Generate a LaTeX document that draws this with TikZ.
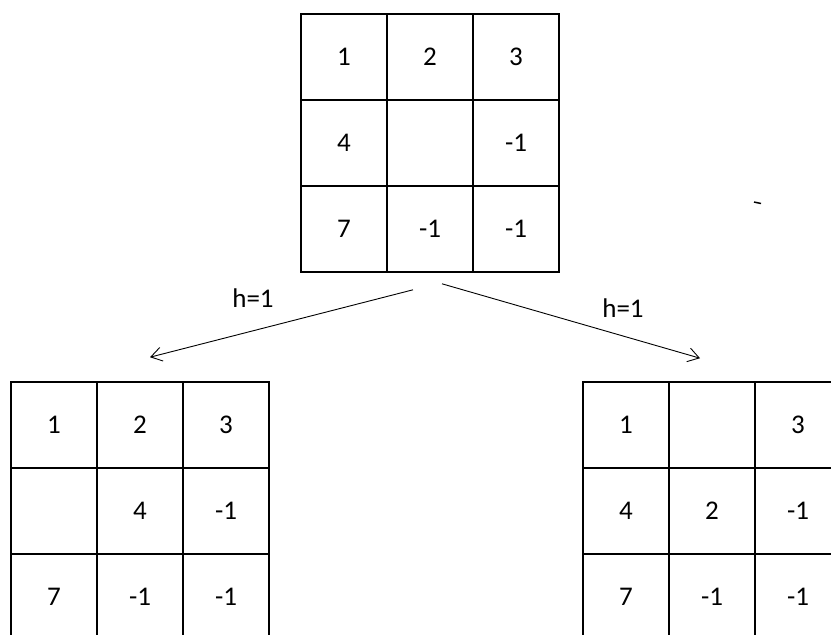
\documentclass[tikz,border=0pt]{standalone}
\usepackage{fontspec}
\setmainfont{Carlito}
\usetikzlibrary{arrows.meta}

\tikzset{
  cell/.style={draw, line width=1.6pt, minimum width=86pt, minimum height=86pt,
    inner sep=0pt, font=\fontsize{27}{32}\selectfont},
  move/.style={line width=0.9pt, -{Straight Barb[length=11pt,width=14pt]}},
  cost/.style={font=\fontsize{27}{32}\selectfont}
}

\begin{document}
\begin{tikzpicture}[x=1pt, y=-1pt]
\useasboundingbox (0,0) rectangle (831,635);
\clip (0,0) rectangle (831,635);

% Start state
\foreach \a/\b/\c [count=\r] in {1/2/3, 4//-1, 7/-1/-1} {
  \node[cell] (start-\r-1) at (344, {57+86*(\r-1)}) {\a};
  \node[cell] (start-\r-2) at (430, {57+86*(\r-1)}) {\b};
  \node[cell] (start-\r-3) at (516, {57+86*(\r-1)}) {\c};
}

% Blank moved left
\foreach \a/\b/\c [count=\r] in {1/2/3, /4/-1, 7/-1/-1} {
  \node[cell] (left-\r-1) at (54, {425+86*(\r-1)}) {\a};
  \node[cell] (left-\r-2) at (140, {425+86*(\r-1)}) {\b};
  \node[cell] (left-\r-3) at (226, {425+86*(\r-1)}) {\c};
}

% Blank moved up
\foreach \a/\b/\c [count=\r] in {1//3, 4/2/-1, 7/-1/-1} {
  \node[cell] (up-\r-1) at (626, {425+86*(\r-1)}) {\a};
  \node[cell] (up-\r-2) at (712, {425+86*(\r-1)}) {\b};
  \node[cell] (up-\r-3) at (798, {425+86*(\r-1)}) {\c};
}

% Moves
\coordinate (from-l) at ([shift={(-17,17)}]start-3-2.south);
\coordinate (to-l) at ([shift={(10,-24)}]left-1-2.north);
\coordinate (from-r) at ([shift={(12,11)}]start-3-2.south);
\coordinate (to-r) at ([shift={(-12,-23)}]up-1-2.north);
\draw[move] (from-l) -- (to-l);
\draw[move] (from-r) -- (to-r);
\node[cost] (h-l) at (253,298) {h=1};
\node[cost] (h-r) at (623,308) {h=1};

% stray mark
\draw[line width=1.5pt] (754,202) -- (761,203.5);
\end{tikzpicture}
\end{document}
